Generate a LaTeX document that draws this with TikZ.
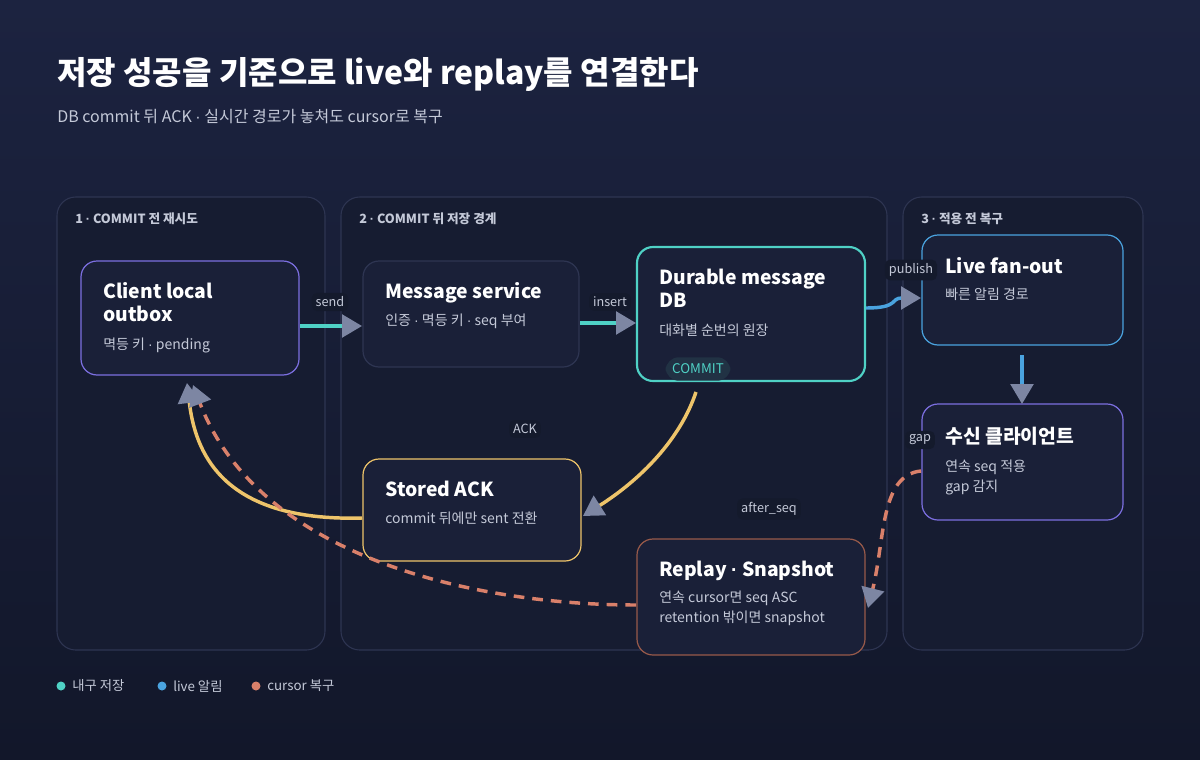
\documentclass[tikz,border=0pt]{standalone}
\usepackage{fontspec}
\setmainfont{Noto Sans CJK KR}
\newfontfamily\latinf{Liberation Sans}
\newcommand{\md}{{\latinf ·}}
\usetikzlibrary{arrows.meta}
\definecolor{bgA}{HTML}{1C2340}
\definecolor{bgB}{HTML}{12172A}
\definecolor{panel}{HTML}{161C31}
\definecolor{panelline}{HTML}{2E3552}
\definecolor{nodefill}{HTML}{1A2038}
\definecolor{teal}{HTML}{4FD1C5}
\definecolor{blu}{HTML}{4AA3DF}
\definecolor{purp}{HTML}{7C6FE0}
\definecolor{yel}{HTML}{EEC46A}
\definecolor{ora}{HTML}{D9806A}
\definecolor{arr}{HTML}{7D86A3}
\definecolor{txt}{HTML}{C4C9D8}
\definecolor{lbl}{HTML}{141A2C}
\definecolor{pill}{HTML}{213244}
\tikzset{
 panelbox/.style={draw=panelline,fill=panel,rounded corners=14pt,line width=0.8pt},
 nbox/.style={draw=#1,fill=nodefill,rounded corners=12pt,line width=0.9pt},
 ttl/.style={anchor=north west,font=\fontsize{14.5}{17}\selectfont\bfseries,text=white,align=left,inner sep=0pt},
 sub/.style={anchor=north west,font=\fontsize{10.5}{14.5}\selectfont,text=txt,align=left,inner sep=0pt},
 ptitle/.style={anchor=west,font=\fontsize{9.5}{11}\selectfont\bfseries,text=txt,inner sep=0pt},
 elabel/.style={fill=lbl,rounded corners=4pt,font=\fontsize{9.5}{11}\selectfont,text=txt,inner sep=3pt},
 tip/.style={-{Triangle[length=15pt,width=17pt,color=arr]}},
 conn/.style={tip,line width=2.6pt,draw=#1},
 dconn/.style={tip,line width=2.6pt,draw=ora,dash pattern=on 8pt off 6pt},
}
\begin{document}
\begin{tikzpicture}[x=0.75pt,y=-0.75pt]
\shade[top color=bgA,bottom color=bgB] (0,0) rectangle (1200,760);
\useasboundingbox (0,0) rectangle (1200,760);
\node[anchor=west,font=\fontsize{24}{28}\selectfont\bfseries,text=white,inner sep=0pt] (title) at (57,74) {저장 성공을 기준으로 live와 replay를 연결한다};
\node[anchor=west,font=\fontsize{12}{14}\selectfont,text=txt,inner sep=0pt] (subt) at (57,117) {DB commit 뒤 ACK \md{} 실시간 경로가 놓쳐도 cursor로 복구};
% panels
\draw[panelbox] (57,197) rectangle (325,650);
\draw[panelbox] (341,197) rectangle (887,650);
\draw[panelbox] (903,197) rectangle (1143,650);
\node[ptitle] (p1) at (75,219) {1 \md{} COMMIT 전 재시도};
\node[ptitle] (p2) at (359,219) {2 \md{} COMMIT 뒤 저장 경계};
\node[ptitle] (p3) at (921,219) {3 \md{} 적용 전 복구};
% nodes
\draw[nbox=purp] (81,261) rectangle (299,375);
\node[ttl] at (103,282) {Client local\\outbox};
\node[sub] at (103,338) {멱등 키 \md{} pending};
\draw[nbox=panelline] (363,261) rectangle (579,367);
\node[ttl] at (385,282) {Message service};
\node[sub] at (385,314) {인증 \md{} 멱등 키 \md{} seq 부여};
\draw[nbox=teal,line width=1.6pt] (637,247) rectangle (865,381);
\node[ttl] at (659,269) {Durable message\\DB};
\node[sub] at (659,324) {대화별 순번의 원장};
\node[fill=pill,rounded corners=10pt,font=\fontsize{10}{12}\selectfont\itshape,text=teal,inner sep=5pt] at (698,369) {COMMIT};
\draw[nbox=blu] (922,235) rectangle (1123,345);
\node[ttl] at (945,257) {Live fan-out};
\node[sub] at (945,288) {빠른 알림 경로};
\draw[nbox=purp] (922,404) rectangle (1123,520);
\node[ttl] at (945,427) {수신 클라이언트};
\node[sub] at (945,460) {연속 seq 적용\\gap 감지};
\draw[nbox=yel] (363,459) rectangle (581,561);
\node[ttl] at (385,481) {Stored ACK};
\node[sub] at (385,512) {commit 뒤에만 sent 전환};
\draw[nbox=ora!70!black] (637,539) rectangle (865,655);
\node[ttl] at (659,561) {Replay \md{} Snapshot};
\node[sub] at (659,591) {연속 cursor면 seq ASC\\retention 밖이면 snapshot};
% connectors
\coordinate (a1) at (300,326); \coordinate (b1) at (362,326);
\coordinate (b2) at (580,323); \coordinate (c1) at (636,323);
\coordinate (c2) at (866,308); \coordinate (d1) at (921,298);
\coordinate (d2) at (1022,355); \coordinate (e1) at (1022,404);
\coordinate (c3) at (696,392); \coordinate (f1) at (583,516);
\coordinate (f2) at (362,518); \coordinate (a2) at (187,383);
\coordinate (e2) at (921,471); \coordinate (g1) at (868,608);
\coordinate (g2) at (636,605); \coordinate (a3) at (193,385);
\draw[conn=teal] (a1) -- (b1);
\draw[conn=teal] (b2) -- (c1);
\draw[conn=blu] (c2) .. controls (900,308) and (890,298) .. (d1);
\draw[conn=blu] (d2) -- (e1);
\draw[conn=yel] (c3) .. controls (680,440) and (640,480) .. (f1);
\draw[conn=yel] (f2) .. controls (220,522) and (195,450) .. (a2);
\draw[dconn] (e2) .. controls (880,475) and (885,540) .. (g1);
\draw[dconn] (g2) .. controls (480,605) and (260,560) .. (a3);
\node[elabel] at (330,302) {send};
\node[elabel] at (610,302) {insert};
\node[elabel] at (911,270) {publish};
\node[elabel] at (525,429) {ACK};
\node[elabel] at (920,440) {gap};
\node[elabel] at (769,509) {after\_seq};
% legend
\fill[teal] (61,686) circle (4.5);
\node[anchor=west,font=\fontsize{10}{12}\selectfont,text=txt,inner sep=0pt] at (72,686) {내구 저장};
\fill[blu] (162,686) circle (4.5);
\node[anchor=west,font=\fontsize{10}{12}\selectfont,text=txt,inner sep=0pt] at (173,686) {live 알림};
\fill[ora] (256,686) circle (4.5);
\node[anchor=west,font=\fontsize{10}{12}\selectfont,text=txt,inner sep=0pt] at (267,686) {cursor 복구};
\end{tikzpicture}
\end{document}
